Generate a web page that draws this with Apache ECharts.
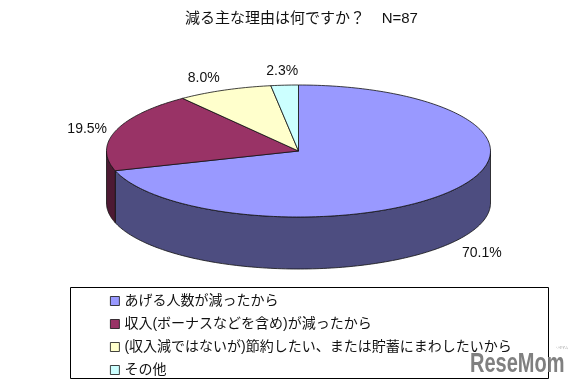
<!DOCTYPE html>
<html>
<head>
<meta charset="utf-8">
<style>html,body{margin:0;padding:0;background:#fff}#main{width:579px;height:382px}</style>
<script src="https://cdn.jsdelivr.net/npm/echarts@6/dist/echarts.min.js"></script>
</head>
<body>
<div id="main"></div>
<script>
var categories = ['あげる人数が減ったから', '収入(ボーナスなどを含め)が減ったから', '(収入減ではないが)節約したい、または貯蓄にまわしたいから', 'その他'];
var values = [70.1, 19.5, 8.0, 2.3];
var colors = ['#9999ff', '#993366', '#ffffcc', '#ccffff'];
var sideColors = ['#4d4d80', '#4d1a33', '#80806a', '#668080'];
var titleText = '減る主な理由は何ですか？    N=87';

var font = '"Liberation Sans", "Noto Sans CJK JP", sans-serif';
var cx = 298.5, cy = 151, rx = 192, ry = 66, depth = 52;
var labelNudge = [[2, 4], [3, 2], [-8, -1], [0, -2]];
var total = values.reduce(function (a, b) { return a + b; }, 0);

// angle in radians, clockwise from the top of the ellipse
function pt(a, dy) {
  return [cx + rx * Math.sin(a), cy - ry * Math.cos(a) + (dy || 0)];
}
function arc(a0, a1, dy) {
  var pts = [];
  var n = Math.max(2, Math.ceil((a1 - a0) / 0.02));
  for (var i = 0; i <= n; i++) pts.push(pt(a0 + (a1 - a0) * i / n, dy));
  return pts;
}
function startAngle(idx) {
  var s = 0;
  for (var i = 0; i < idx; i++) s += values[i];
  return s / total * Math.PI * 2;
}

function makeRender(idx) {
  return function (params, api) {
    var a0 = startAngle(idx);
    var a1 = startAngle(idx + 1);
    var line = { stroke: '#111', lineWidth: 0.8 };
    var children = [];
    // side wall only shows on the front half
    var w0 = Math.max(a0, Math.PI / 2);
    var w1 = Math.min(a1, Math.PI * 1.5);
    if (w1 > w0) {
      children.push({
        type: 'polygon',
        z2: 1,
        shape: { points: arc(w0, w1, 0).concat(arc(w0, w1, depth).reverse()) },
        style: Object.assign({ fill: sideColors[idx] }, line)
      });
    }
    children.push({
      type: 'polygon',
      z2: 2,
      shape: { points: [[cx, cy]].concat(arc(a0, a1, 0)) },
      style: Object.assign({ fill: api.visual('color') }, line)
    });
    var mid = (a0 + a1) / 2;
    var lx = cx + 225 * Math.sin(mid) + labelNudge[idx][0];
    var ly = cy - 78 * Math.cos(mid) + (Math.cos(mid) < 0 ? depth : 0) + labelNudge[idx][1];
    children.push({
      type: 'text',
      z2: 3,
      style: {
        x: lx, y: ly,
        text: api.value(0).toFixed(1) + '%',
        fill: '#111',
        font: '14px ' + font,
        textAlign: 'center',
        textVerticalAlign: 'middle'
      }
    });
    return { type: 'group', children: children };
  };
}

var myChart = echarts.init(document.getElementById('main'), null, { renderer: 'canvas' });

var option = {
  animation: false,
  backgroundColor: '#fff',
  color: colors,
  title: {
    text: titleText,
    left: 180,
    top: 6,
    textStyle: { fontSize: 15, fontWeight: 'normal', color: '#111', fontFamily: font }
  },
  legend: {
    data: categories,
    orient: 'vertical',
    left: 110,
    top: 292,
    padding: 0,
    itemWidth: 9,
    itemHeight: 9,
    itemGap: 5,
    icon: 'rect',
    selectedMode: false,
    itemStyle: { borderColor: '#111', borderWidth: 0.8 },
    textStyle: { fontSize: 14, color: '#111', fontFamily: font, lineHeight: 18 }
  },
  graphic: [
    {
      type: 'rect',
      shape: { x: 70.5, y: 287.5, width: 478, height: 91 },
      style: { fill: 'transparent', stroke: '#000', lineWidth: 1 },
      z: -1
    },
    {
      type: 'text',
      x: 470,
      y: 350,
      scaleY: 1.4,
      style: { text: 'ReseMom', fill: '#808080', font: 'bold 20px ' + font }
    },
    {
      type: 'text',
      x: 556,
      y: 346,
      style: { text: 'リセマム', fill: '#999', font: '3px "Noto Sans CJK JP"' }
    }
  ],
  series: categories.map(function (name, i) {
    return {
      type: 'custom',
      name: name,
      coordinateSystem: 'none',
      renderItem: makeRender(i),
      data: [[values[i]]]
    };
  })
};

myChart.setOption(option);
</script>
</body>
</html>
